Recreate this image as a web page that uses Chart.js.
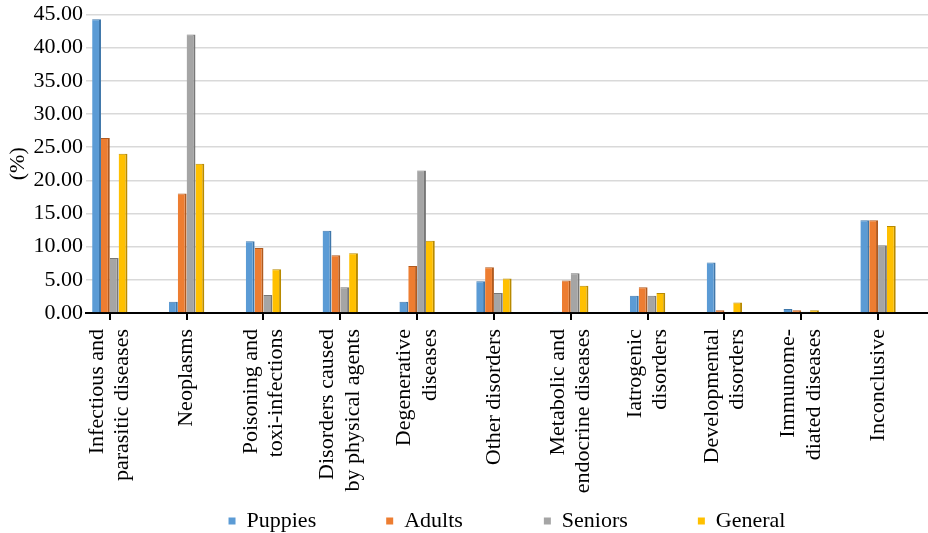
<!DOCTYPE html>
<html>
<head>
<meta charset="utf-8">
<script src="https://cdn.jsdelivr.net/npm/chart.js@4/dist/chart.umd.min.js"></script>
<style>
  html, body { margin: 0; padding: 0; background: #fff; }
  #wrap { width: 928px; height: 533px; }
</style>
</head>
<body>
<div id="wrap"><canvas id="chart"></canvas></div>
<script>
const categories = [
  ["Infectious and", "parasitic diseases"],
  ["Neoplasms"],
  ["Poisoning and", "toxi-infections"],
  ["Disorders caused", "by physical agents"],
  ["Degenerative", "diseases"],
  ["Other disorders"],
  ["Metabolic and", "endocrine diseases"],
  ["Iatrogenic", "disorders"],
  ["Developmental", "disorders"],
  ["Immunome-", "diated diseases"],
  ["Inconclusive"]
];
const seriesNames = ["Puppies", "Adults", "Seniors", "General"];
const puppies = [44.3, 1.7, 10.8, 12.4, 1.7, 4.8, 0.2, 2.6, 7.6, 0.6, 14.0];
const adults  = [26.4, 18.0, 9.8, 8.7, 7.1, 6.9, 4.9, 3.9, 0.4, 0.4, 14.0];
const seniors = [8.3, 42.0, 2.7, 3.9, 21.5, 3.0, 6.0, 2.6, 0.0, 0.2, 10.2];
const general = [24.0, 22.5, 6.6, 9.0, 10.9, 5.2, 4.1, 3.0, 1.6, 0.4, 13.1];
const yTicks = [0, 5, 10, 15, 20, 25, 30, 35, 40, 45];

const fills = ["#5b9bd5", "#ed7d31", "#a5a5a5", "#ffc000"];
const edges = ["#3f77aa", "#b05a1f", "#777777", "#b88a00"];
const FONT = "'Liberation Serif', 'DejaVu Serif', serif";
const FS = 22;
const LABEL_LH = 1.15;
const X_MIN = -0.31, X_MAX = 10.65;
const PX_PER_CAT = 842 / (X_MAX - X_MIN);

// pad legend texts so every entry takes the same column, like Excel does
const measureCtx = document.createElement("canvas").getContext("2d");
measureCtx.font = FS + "px 'Liberation Serif'";
function padText(t, w) {
  let s = t;
  while (measureCtx.measureText(s).width < w) s += " ";
  return s;
}

const toPoints = arr => arr.map((v, i) => ({ x: i, y: v }));

const datasets = [puppies, adults, seniors, general].map((arr, k) => ({
  label: seriesNames[k],
  data: toPoints(arr),
  backgroundColor: fills[k],
  borderColor: edges[k],
  borderWidth: { top: 1, right: 2, bottom: 0, left: 0 },
  borderSkipped: false,
  categoryPercentage: 0.46,
  barPercentage: 1.0
}));

// label axis: shift multi-line labels so the block is centred on the category
const labelShift = lines => (lines - 1) * FS * LABEL_LH / 2 / PX_PER_CAT;

new Chart(document.getElementById("chart"), {
  type: "bar",
  data: { datasets },
  options: {
    responsive: true,
    maintainAspectRatio: false,
    animation: false,
    layout: { padding: { top: 0, right: 0, left: 0, bottom: -9 } },
    plugins: {
      tooltip: { enabled: false },
      legend: {
        position: "bottom",
        fullSize: false,
        labels: {
          color: "#000",
          font: { family: FONT, size: FS, lineHeight: 1 },
          boxWidth: 7,
          boxHeight: 7,
          padding: 4,
          generateLabels: chart => {
            const items = Chart.defaults.plugins.legend.labels.generateLabels(chart);
            items.forEach((it, i) => {
              if (i < items.length - 1) it.text = padText(it.text, 131);
              it.lineWidth = 0;
            });
            return items;
          }
        }
      }
    },
    scales: {
      x: {
        type: "linear",
        offset: false,
        min: X_MIN,
        max: X_MAX,
        afterBuildTicks: s => { s.ticks = categories.map((_, i) => ({ value: i })); },
        afterFit: s => { s.height = 8; },
        ticks: { display: false },
        grid: { display: true, offset: false, drawOnChartArea: false, drawTicks: true, tickLength: 7, color: "#000", lineWidth: 2 },
        border: { display: true, color: "#000", width: 2 }
      },
      xLabels: {
        type: "linear",
        position: "bottom",
        offset: false,
        min: X_MIN,
        max: X_MAX,
        afterBuildTicks: s => {
          s.ticks = categories.map((c, i) => ({ value: i - labelShift(c.length) }));
        },
        afterFit: s => { s.height = 185; },
        ticks: {
          autoSkip: false,
          minRotation: 90,
          maxRotation: 90,
          padding: 0,
          color: "#000",
          font: { family: FONT, size: FS, lineHeight: LABEL_LH },
          callback: (v, i) => categories[i] || ""
        },
        grid: { display: false },
        border: { display: false }
      },
      y: {
        min: 0,
        max: 45,
        afterFit: s => { s.width = 86; },
        afterBuildTicks: s => { s.ticks = yTicks.map(v => ({ value: v })); },
        ticks: {
          color: "#000",
          padding: 3,
          font: { family: FONT, size: FS, lineHeight: 1.05 },
          callback: v => v.toFixed(2)
        },
        grid: { color: "#d9d9d9", lineWidth: 1.5, drawTicks: false },
        border: { display: false },
        title: {
          display: true,
          text: "(%)",
          color: "#000",
          font: { family: FONT, size: FS },
          padding: { top: 5, bottom: 0 }
        }
      }
    }
  }
});
</script>
</body>
</html>
